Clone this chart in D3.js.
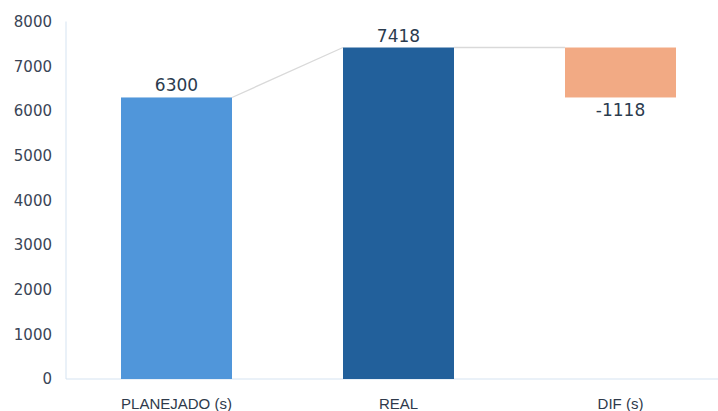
<!DOCTYPE html>
<html>
<head>
<meta charset="utf-8">
<script src="https://cdn.jsdelivr.net/npm/d3@7"></script>
<style>
  html, body { margin: 0; padding: 0; background: #fff; }
  svg { display: block; }
</style>
</head>
<body>
<svg id="chart" width="718" height="411"></svg>
<script>
// Waterfall: planned vs actual time, with the difference
const categories = ["PLANEJADO (s)", "REAL", "DIF (s)"];
const values = [6300, 7418, -1118];
const kinds = ["total", "total", "delta"];
const yTicks = [0, 1000, 2000, 3000, 4000, 5000, 6000, 7000, 8000];
const barColors = ["#5096da", "#22609b", "#f2aa84"];

const svg = d3.select("#chart");
const margin = { left: 66, top: 21.5, bottom: 32 };
const W = 718, H = 411;

const x = d3.scaleBand().domain(categories).range([65.5, 731.5])
  .paddingInner(0.5).paddingOuter(0.25);
const y = d3.scaleLinear().domain([0, 8000]).range([H - margin.bottom, margin.top]);

// compute floating segments
let running = 0;
const segs = categories.map((c, i) => {
  let lo, hi, end;
  if (kinds[i] === "total") { lo = 0; hi = values[i]; end = values[i]; }
  else { const a = running, b = running + values[i]; lo = Math.min(a, b); hi = Math.max(a, b); end = b; }
  const start = running;
  running = end;
  return { c, v: values[i], lo, hi, start, end, color: barColors[i], kind: kinds[i] };
});

// axes lines
const axisColor = "#d5e3f1";
svg.append("line").attr("x1", margin.left).attr("x2", margin.left)
  .attr("y1", y(8000)).attr("y2", y(0)).attr("stroke", axisColor).attr("stroke-width", 1);
svg.append("line").attr("x1", margin.left).attr("x2", W)
  .attr("y1", y(0)).attr("y2", y(0)).attr("stroke", axisColor).attr("stroke-width", 1);

// y tick labels
const yAxis = d3.axisLeft(y).tickValues(yTicks).tickSize(0).tickPadding(14).tickFormat(d3.format("d"));
const gy = svg.append("g").attr("transform", `translate(${margin.left},0)`).call(yAxis);
gy.select(".domain").remove();
gy.selectAll("text").attr("font-family", "'DejaVu Sans', sans-serif")
  .attr("font-size", 15).attr("fill", "#3a4556");

// x labels
const xAxis = d3.axisBottom(x).tickSize(0);
const gx = svg.append("g").attr("transform", `translate(0,${y(0)})`).call(xAxis);
gx.select(".domain").remove();
gx.selectAll("text").attr("y", 30).attr("dy", 0)
  .attr("font-family", "'Liberation Sans', Arial, sans-serif")
  .attr("font-size", 15).attr("fill", "#2e3a4b");

// connectors
for (let i = 0; i < segs.length - 1; i++) {
  const a = segs[i], b = segs[i + 1];
  svg.append("line")
    .attr("x1", x(a.c) + x.bandwidth()).attr("y1", y(a.end))
    .attr("x2", x(b.c)).attr("y2", y(b.kind === "total" ? b.hi : a.end))
    .attr("stroke", "#d9d9d9").attr("stroke-width", 1.3);
}

// bars
svg.append("g").selectAll("rect").data(segs).join("rect")
  .attr("x", d => x(d.c)).attr("width", x.bandwidth())
  .attr("y", d => y(d.hi)).attr("height", d => y(d.lo) - y(d.hi))
  .attr("fill", d => d.color);

// value labels
svg.append("g").selectAll("text").data(segs).join("text")
  .attr("x", d => x(d.c) + x.bandwidth() / 2)
  .attr("y", d => d.v >= 0 ? y(d.hi) - 6 : y(d.lo) + 19)
  .attr("text-anchor", "middle")
  .attr("font-family", "'DejaVu Sans', sans-serif")
  .attr("font-size", 17).attr("fill", "#2b3b4e")
  .text(d => d.v);
</script>
</body>
</html>
